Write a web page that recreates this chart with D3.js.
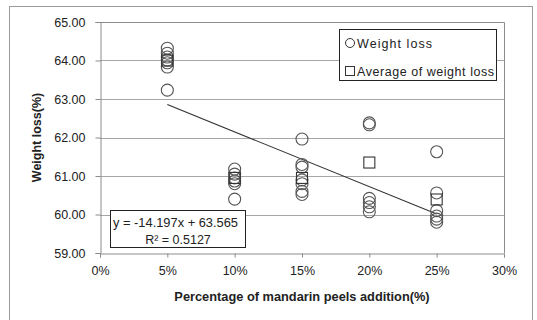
<!DOCTYPE html>
<html><head><meta charset="utf-8">
<script src="https://cdn.jsdelivr.net/npm/d3@7"></script>
<style>body{margin:0;background:#fff}svg{display:block}</style>
</head><body>
<script>
// Data (x as fraction of peel addition, y = weight loss %)
const xLevels = [0.05, 0.10, 0.15, 0.20, 0.25];
const weightLoss5  = [64.32, 64.19, 64.09, 64.01, 63.94, 63.83, 63.23];
const weightLoss10 = [61.18, 61.05, 60.95, 60.87, 60.80, 60.40];
const weightLoss15 = [61.96, 61.30, 61.23, 60.90, 60.80, 60.60, 60.52];
const weightLoss20 = [62.38, 62.33, 60.42, 60.31, 60.20, 60.07];
const weightLoss25 = [61.63, 60.56, 60.10, 59.96, 59.88, 59.80];
const averages = [64.00, 60.95, 60.95, 61.35, 60.39];
const yTicks = [59, 60, 61, 62, 63, 64, 65];
const xTicks = [0, 0.05, 0.10, 0.15, 0.20, 0.25, 0.30];
const slope = -14.197, intercept = 63.565;
const eqLabel = "y = -14.197x + 63.565";
const r2Label = "R\u00B2 = 0.5127";

const W = 537, H = 320;
const svg = d3.select("body").append("svg").attr("width", W).attr("height", H);
const font = "'Liberation Sans', Arial, sans-serif";

// outer frame
svg.append("rect").attr("x", 9.5).attr("y", 6.5).attr("width", 523).attr("height", 330)
  .attr("fill", "none").attr("stroke", "#9a9a9a").attr("stroke-width", 1);

const L = 100, R = 504, T = 22, B = 253;
const x = d3.scaleLinear().domain([0, 0.30]).range([L, R]);
const y = d3.scaleLinear().domain([59, 65]).range([B, T]);

// gridlines
svg.append("g").selectAll("line").data(yTicks.filter(d => d > 59 && d < 65)).join("line")
  .attr("x1", L).attr("x2", R).attr("y1", d => Math.round(y(d)) + 0.5).attr("y2", d => Math.round(y(d)) + 0.5)
  .attr("stroke", "#a6a6a6").attr("stroke-width", 1);

// plot border (top/right)
svg.append("path").attr("d", `M${L},${T + 0.5}H${R + 0.5}V${B}`)
  .attr("fill", "none").attr("stroke", "#8c8c8c");

// axes
const yAxis = d3.axisLeft(y).tickValues(yTicks).tickFormat(d3.format(".2f")).tickSize(5).tickPadding(10);
const gy = svg.append("g").attr("transform", `translate(${L + 0.5},0)`).call(yAxis);
const xAxis = d3.axisBottom(x).tickValues(xTicks).tickFormat(d3.format(".0%")).tickSize(4).tickPadding(9);
const gx = svg.append("g").attr("transform", `translate(0,${B + 0.5})`).call(xAxis);
[gx, gy].forEach(g => {
  g.select(".domain").attr("stroke", "#8c8c8c");
  g.selectAll(".tick line").attr("stroke", "#8c8c8c");
  g.selectAll("text").attr("font-family", font).attr("font-size", 12.5).attr("fill", "#222");
});

// trendline
svg.append("line")
  .attr("x1", x(xLevels[0])).attr("y1", y(slope * xLevels[0] + intercept))
  .attr("x2", x(xLevels[4])).attr("y2", y(slope * xLevels[4] + intercept))
  .attr("stroke", "#333").attr("stroke-width", 1.1);

// points
const groups = [weightLoss5, weightLoss10, weightLoss15, weightLoss20, weightLoss25];
const pts = [];
groups.forEach((arr, i) => arr.forEach(v => pts.push({ x: xLevels[i], y: v })));
svg.append("g").selectAll("circle").data(pts).join("circle")
  .attr("cx", d => x(d.x)).attr("cy", d => y(d.y)).attr("r", 6)
  .attr("fill", "none").attr("stroke", "#555").attr("stroke-width", 1.1);

svg.append("g").selectAll("rect").data(averages.map((v, i) => ({ x: xLevels[i], y: v }))).join("rect")
  .attr("x", d => x(d.x) - 5.5).attr("y", d => y(d.y) - 5.5).attr("width", 11).attr("height", 11)
  .attr("fill", "none").attr("stroke", "#333").attr("stroke-width", 1.1);

// equation box
svg.append("rect").attr("x", 110.5).attr("y", 210.5).attr("width", 135).attr("height", 37)
  .attr("fill", "#fff").attr("stroke", "#222");
svg.append("text").attr("x", 113).attr("y", 226.5)
  .attr("textLength", 125).attr("lengthAdjust", "spacingAndGlyphs")
  .attr("font-family", font).attr("font-size", 12.5).attr("fill", "#222").text(eqLabel);
svg.append("text").attr("x", 178).attr("y", 243.5).attr("text-anchor", "middle")
  .attr("font-family", font).attr("font-size", 12.5).attr("fill", "#222").text(r2Label);

// legend
svg.append("rect").attr("x", 339.5).attr("y", 29.5).attr("width", 157).attr("height", 51)
  .attr("fill", "#fff").attr("stroke", "#222");
svg.append("circle").attr("cx", 350).attr("cy", 43).attr("r", 4.5)
  .attr("fill", "none").attr("stroke", "#333");
svg.append("text").attr("x", 357).attr("y", 47.5).attr("textLength", 75).attr("lengthAdjust", "spacing")
  .attr("font-family", font).attr("font-size", 12.5).attr("fill", "#222").text("Weight loss");
svg.append("rect").attr("x", 345.5).attr("y", 66.5).attr("width", 9).attr("height", 9)
  .attr("fill", "none").attr("stroke", "#333");
svg.append("text").attr("x", 357).attr("y", 75.5).attr("textLength", 137).attr("lengthAdjust", "spacing")
  .attr("font-family", font).attr("font-size", 12.5).attr("fill", "#222").text("Average of weight loss");

// axis titles
svg.append("text").attr("x", (L + R) / 2).attr("y", 301).attr("text-anchor", "middle")
  .attr("font-family", font).attr("font-size", 12.8).attr("font-weight", "bold").attr("fill", "#222")
  .text("Percentage of mandarin peels addition(%)");
svg.append("text").attr("transform", `translate(41,${(T + B) / 2}) rotate(-90)`).attr("text-anchor", "middle")
  .attr("font-family", font).attr("font-size", 12.5).attr("font-weight", "bold").attr("fill", "#222")
  .text("Weight loss(%)");
</script>
</body></html>
